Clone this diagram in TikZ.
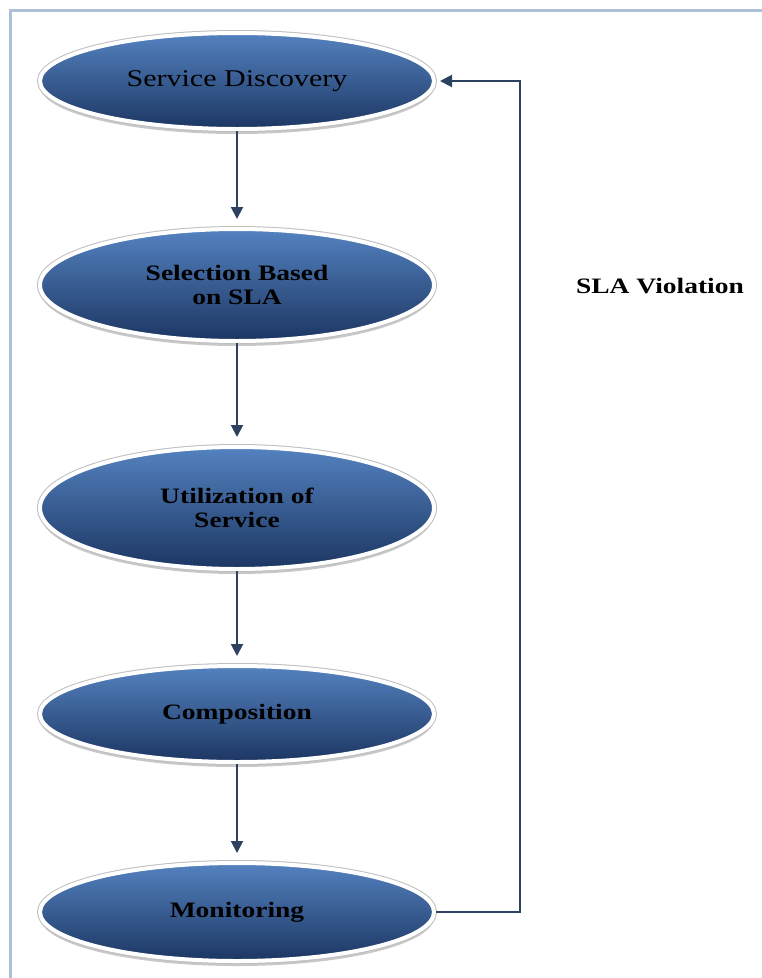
\documentclass[tikz,border=0pt]{standalone}
\usepackage{fontspec}
\setmainfont{Liberation Serif}[FakeStretch=1.25]
\usetikzlibrary{shapes.geometric,arrows.meta,shadows}
\definecolor{blueTop}{RGB}{84,130,192}
\definecolor{blueMid}{RGB}{58,100,160}
\definecolor{blueBot}{RGB}{28,54,98}
\definecolor{arrowc}{RGB}{44,66,96}
\definecolor{framec}{RGB}{172,192,216}
\tikzset{
  blob/.style={ellipse, inner sep=0pt, align=center, text=black,
    minimum width=394pt, top color=blueTop, middle color=blueMid, bottom color=blueBot,
    draw=white, line width=4pt,
    drop shadow={shadow xshift=0pt, shadow yshift=-5pt, fill=black!30, opacity=0.7},
    preaction={draw=black!25, line width=6pt},
    font=\fontsize{22}{24}\selectfont\bfseries},
  flow/.style={draw=arrowc, line width=2pt, -{Triangle[width=12pt,length=12pt]}, shorten >=8pt},
  lbl/.style={font=\fontsize{22}{24}\selectfont\bfseries, text=black}
}
\begin{document}
\begin{tikzpicture}[x=1pt,y=-1pt]
\useasboundingbox (0,0) rectangle (762,978);
\fill[white] (0,0) rectangle (762,978);
\draw[framec, line width=3pt] (10,978) -- (10,10) -- (762,10);

\node[blob, minimum height=96pt, font=\fontsize{24}{26}\selectfont] (sd) at (237,81) {Service Discovery};
\node[blob, minimum height=112pt] (sel) at (237,285) {Selection Based\\on SLA};
\node[blob, minimum height=122pt] (util) at (237,508) {Utilization of\\Service};
\node[blob, minimum height=96pt] (comp) at (237,714) {Composition};
\node[blob, minimum height=98pt] (mon) at (237,912) {Monitoring};

\node[lbl] (viol) at (660,286) {SLA Violation};

\coordinate (fb) at (520,912);
\draw[flow] (sd.south) -- (sel.north);
\draw[flow] (sel.south) -- (util.north);
\draw[flow] (util.south) -- (comp.north);
\draw[flow] (comp.south) -- (mon.north);
\draw[flow, shorten >=4pt] (mon.east) -- (fb) -- (fb |- sd.east) -- (sd.east);
\end{tikzpicture}
\end{document}
